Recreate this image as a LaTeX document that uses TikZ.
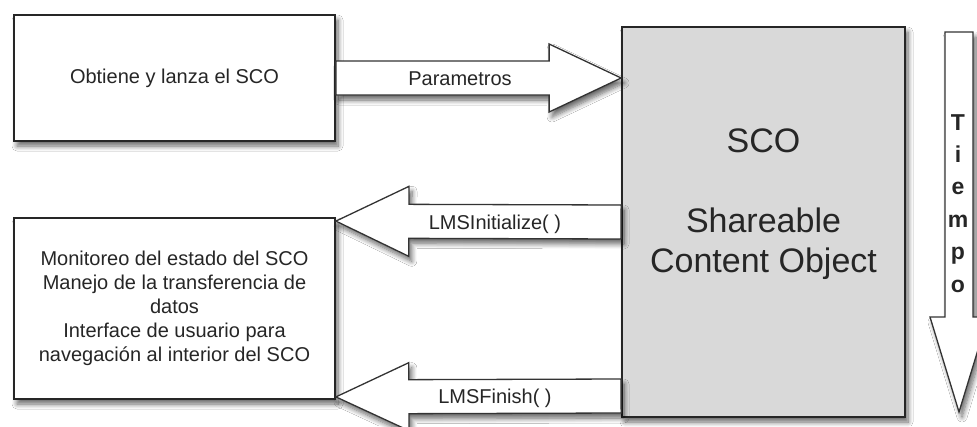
\documentclass[tikz,border=0pt]{standalone}
\usepackage{fontspec}
\setmainfont{Liberation Sans}
\usetikzlibrary{calc,shadows.blur}
\newcommand\blockarr[5]{% #1 tail, #2 tip, #3 body half, #4 head half, #5 head length
  \coordinate (hb) at ($(#2)!#5!(#1)$);
  \path[blockarrow] ($(#1)!#3!90:(#2)$) -- ($(hb)!#3!90:(#2)$) -- ($(hb)!#4!90:(#2)$)
    -- (#2) -- ($(hb)!#4!-90:(#2)$) -- ($(hb)!#3!-90:(#2)$) -- ($(#1)!#3!-90:(#2)$) -- cycle;}
\begin{document}
\begin{tikzpicture}[x=1pt,y=-1pt,
  shad/.style={blur shadow={shadow xshift=3pt, shadow yshift=-5pt, shadow blur steps=8, shadow blur radius=5pt, shadow opacity=60}},
  box/.style={draw=black!85, line width=1.8pt, fill=white, shad, inner sep=0pt},
  blockarrow/.style={draw=black!80, line width=1.3pt, fill=white, line join=miter, shad},
  txt/.style={font=\fontsize{20}{24}\selectfont, text=black!85},
  bigtxt/.style={font=\fontsize{34}{40}\selectfont, text=black!85, anchor=base},
  letter/.style={font=\bfseries\fontsize{23}{28}\selectfont, text=black!85, anchor=base}]
\clip (0,0) rectangle (977,426);
\fill[white] (0,0) rectangle (977,426);
% boxes
\node[box, minimum width=321pt, minimum height=126pt, txt] (obt) at (174.5,78) {Obtiene y lanza el SCO};
\node[box, minimum width=321pt, minimum height=181pt, align=center, txt] (mon) at (174.5,308.5)
  {Monitoreo del estado del SCO\\Manejo de la transferencia de\\datos\\Interface de usuario para\\navegación al interior del SCO};
\node[box, fill=black!15, minimum width=283pt, minimum height=390pt] (sco) at (763.5,222) {};
\node[bigtxt] (s1) at (763.5,152) {SCO};
\node[bigtxt] (s2) at (763.5,232) {Shareable};
\node[bigtxt] (s3) at (763.5,272) {Content Object};
% arrow end points
\coordinate (p1t) at (obt.east);
\coordinate (p1h) at ($(sco.west)+(0,-144)$);
\coordinate (p2t) at (sco.west);
\coordinate (p2h) at ($(mon.north east)+(0,4)$);
\coordinate (p3t) at ($(sco.west)+(0,174)$);
\coordinate (p3h) at ($(mon.south east)+(0,-3)$);
\coordinate (tt) at (959,32);
\coordinate (tp) at (959,412);
\blockarr{p1t}{p1h}{17pt}{34pt}{72pt}
\blockarr{p2t}{p2h}{17pt}{35pt}{73pt}
\blockarr{p3t}{p3h}{17pt}{34pt}{73pt}
\blockarr{tt}{tp}{14pt}{29pt}{95pt}
\node[txt] (l1) at (460,79) {Parametros};
\node[txt] (l2) at (495,224) {LMSInitialize( )};
\node[txt] (l3) at (495,398) {LMSFinish( )};
\foreach \l [count=\i] in {T,i,e,m,p,o}
  \node[letter] (tl\i) at (958,{130+32.4*(\i-1)}) {\l};
\end{tikzpicture}
\end{document}
